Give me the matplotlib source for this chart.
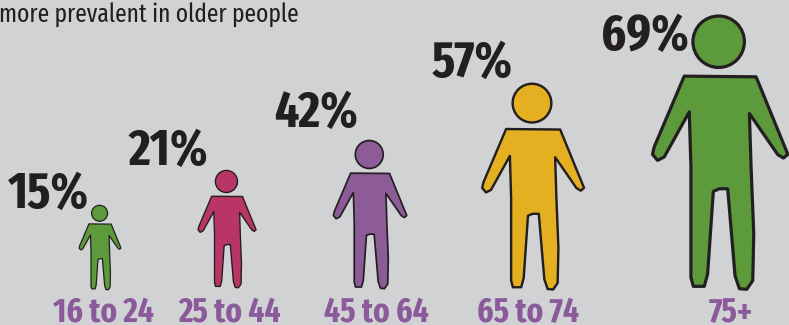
import matplotlib
matplotlib.use("Agg")
import matplotlib.pyplot as plt
from matplotlib.patches import Polygon, Circle
import numpy as np

age_groups = ["16 to 24", "25 to 44", "45 to 64", "65 to 74", "75+"]
shares = [15, 21, 42, 57, 69]
caption = "more prevalent in older people"

fill_colors = ["#5c9a3c", "#b93566", "#8c5b98", "#e4b022", "#5c9a3c"]
figure_heights = [85, 118, 149, 207, 275]
figure_centers = [100, 227, 370, 533, 720]
figure_feet = [290, 288, 289, 290, 290]
share_anchor = [(8, 208), (128, 165), (274, 127), (432, 77), (601, 50)]
group_centers = [103, 230, 376, 528, 731]

BG = "#d1d2d4"
INK = "#231f20"
PURPLE = "#8a5a9a"
FONT = ["Fira Sans Extra Condensed", "Liberation Sans"]

# Person silhouette, drawn on a 405 x 823 grid with y running downwards
BODY = np.array([
    (135, 228), (350, 230), (445, 462), (432, 473), (415, 463), (330, 340),
    (335, 500), (343, 700), (340, 840), (322, 866), (300, 864), (287, 825),
    (265, 565), (240, 565), (222, 573), (205, 820), (195, 857), (162, 857),
    (155, 830), (155, 700), (155, 500), (150, 335), (75, 470), (55, 480),
    (40, 462), (45, 440),
], dtype=float)
HEAD = (238.0, 125.0, 77.0)
TOP, BOTTOM, MID = 45.0, 868.0, 242.0


def draw_person(ax, cx, foot, height, color):
    k = height / (BOTTOM - TOP)
    lw = max(0.9, 2.3 * height / 275)
    pts = np.column_stack([cx + (BODY[:, 0] - MID) * k,
                           foot + (BODY[:, 1] - BOTTOM) * k])
    ax.add_patch(Polygon(pts, closed=True, facecolor=color, edgecolor=INK,
                         linewidth=lw, joinstyle="round"))
    ax.add_patch(Circle((cx + (HEAD[0] - MID) * k, foot + (HEAD[1] - BOTTOM) * k),
                        HEAD[2] * k, facecolor=color, edgecolor=INK, linewidth=lw))


fig = plt.figure(figsize=(7.89, 3.25), dpi=100, facecolor=BG)
ax = fig.add_axes([0, 0, 1, 1])
ax.set_xlim(0, 789)
ax.set_ylim(325, 0)
ax.axis("off")

ax.text(-1, 22, caption, fontsize=18.4, family=FONT, color=INK, ha="left", va="baseline")

for i, group in enumerate(age_groups):
    draw_person(ax, figure_centers[i], figure_feet[i], figure_heights[i], fill_colors[i])
    ax.text(share_anchor[i][0], share_anchor[i][1], f"{shares[i]}%", fontsize=37,
            family=FONT, weight="bold", color=INK, ha="left", va="baseline")
    ax.text(group_centers[i], 322, group, fontsize=24.5, family=FONT, weight="bold",
            color=PURPLE, ha="center", va="baseline")

fig.savefig("out.png", dpi=100, facecolor=BG)
